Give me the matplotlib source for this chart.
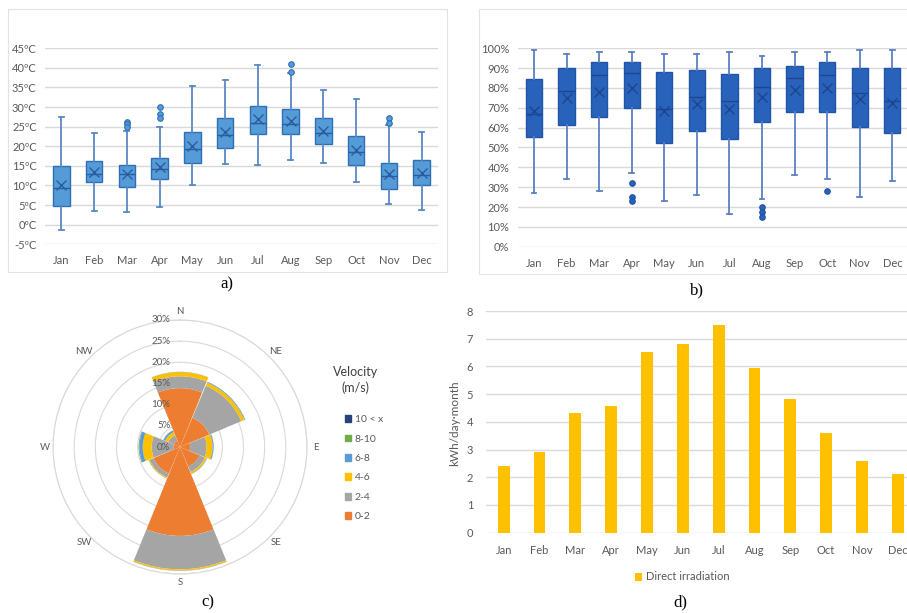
import matplotlib
matplotlib.use("Agg")
import numpy as np
import matplotlib.pyplot as plt
from matplotlib.patches import Patch, Rectangle

plt.rcParams['font.family'] = ['Lato', 'DejaVu Sans']

months = ["Jan", "Feb", "Mar", "Apr", "May", "Jun", "Jul", "Aug", "Sep", "Oct", "Nov", "Dec"]

# a) monthly air temperature (ºC)
temp_low = [-1.4, 3.4, 3.2, 4.4, 10.1, 15.4, 15.3, 16.4, 15.7, 10.9, 5.2, 3.8]
temp_q1 = [4.8, 10.8, 9.7, 11.7, 15.7, 19.6, 23.1, 23.1, 20.7, 15.3, 9.2, 10.0]
temp_med = [9.3, 13.0, 12.9, 14.1, 19.2, 23.0, 25.9, 25.6, 23.3, 18.6, 12.4, 12.7]
temp_q3 = [15.1, 16.2, 15.3, 16.9, 23.7, 27.2, 30.4, 29.4, 27.1, 22.6, 15.7, 16.4]
temp_high = [27.4, 23.3, 24.0, 24.8, 35.4, 36.8, 40.8, 38.6, 34.3, 32.0, 25.4, 23.7]
temp_mean = [10.0, 13.5, 12.9, 14.6, 20.2, 23.6, 26.9, 26.4, 24.0, 19.0, 12.9, 13.1]
temp_out = [[], [], [26.3, 25.6, 24.9], [29.9, 28.2, 27.1], [], [], [],
            [41.0, 38.9], [], [], [27.3, 26.0], []]

# b) monthly relative humidity (%)
hum_low = [27.2, 34.3, 28.2, 37.3, 23.2, 26.1, 16.3, 24.2, 36.3, 34.3, 25.2, 33.3]
hum_q1 = [55.3, 61.3, 65.2, 70.1, 52.1, 58.2, 54.3, 63.0, 68.1, 68.1, 60.2, 57.1]
hum_med = [67.1, 78.3, 86.4, 87.4, 69.4, 75.3, 73.3, 80.3, 85.2, 86.4, 77.3, 73.3]
hum_q3 = [84.4, 90.3, 93.3, 93.3, 88.2, 89.2, 87.2, 90.1, 91.3, 93.3, 90.1, 90.1]
hum_high = [99.2, 97.3, 98.3, 98.3, 97.3, 97.3, 98.3, 96.3, 98.3, 98.3, 99.2, 99.2]
hum_mean = [68.4, 75.0, 78.0, 79.8, 68.6, 71.8, 69.6, 75.5, 79.2, 79.8, 74.3, 72.3]
hum_out = [[], [], [], [32.3, 25.2, 23.2], [], [], [],
           [20.2, 17.5, 15.1], [], [28.1], [], []]

# c) wind frequency (%) by direction and speed class
directions = ["N", "NE", "E", "SE", "S", "SW", "W", "NW"]
speed_labels = ["0-2", "2-4", "4-6", "6-8", "8-10", "10 < x"]
wind_0_2 = [13.9, 7.5, 2.4, 5.0, 21.0, 6.8, 1.5, 1.6]
wind_2_4 = [2.8, 8.2, 3.9, 1.4, 7.9, 1.0, 5.2, 1.4]
wind_4_6 = [1.0, 0.8, 1.4, 0.4, 0.3, 0.2, 2.1, 0.8]
wind_6_8 = [0.05, 0.15, 0.2, 0.1, 0.05, 0.05, 0.8, 0.4]
wind_8_10 = [0.02, 0.05, 0.05, 0.02, 0.02, 0.02, 0.1, 0.05]
wind_10_up = [0.0, 0.02, 0.02, 0.0, 0.0, 0.0, 0.05, 0.02]
wind_colors = ["#ED7D31", "#A5A5A5", "#FFC000", "#5B9BD5", "#70AD47", "#264478"]

# d) direct irradiation (kWh/day·month)
irradiation = [2.41, 2.91, 4.31, 4.56, 6.52, 6.80, 7.48, 5.96, 4.84, 3.61, 2.60, 2.12]

TICK_GRAY = "#595959"
GRID_GRAY = "#D9D9D9"
W, H = 907, 613


def px_box(x0, y0, x1, y1):
    # pixel box (top-left origin) -> figure fraction rect
    return [x0 / W, 1 - y1 / H, (x1 - x0) / W, (y1 - y0) / H]


def make_stats(low, q1, med, q3, high, mean, out):
    stats = []
    for i in range(len(low)):
        stats.append(dict(whislo=low[i], q1=q1[i], med=med[i], q3=q3[i],
                          whishi=high[i], mean=mean[i], fliers=out[i]))
    return stats


def draw_boxes(ax, stats, fill, edge, whisk, dark):
    ax.bxp(stats, positions=range(12), widths=0.5, capwidths=0.15,
           patch_artist=True, showmeans=True, showfliers=True,
           boxprops=dict(facecolor=fill, edgecolor=edge, linewidth=1.0),
           medianprops=dict(color=dark, linewidth=1.0),
           whiskerprops=dict(color=whisk, linewidth=1.3),
           capprops=dict(color=whisk, linewidth=1.3),
           meanprops=dict(marker="x", markeredgecolor=dark, markersize=7,
                          markeredgewidth=1.0),
           flierprops=dict(marker="o", markerfacecolor=fill, markeredgecolor=edge,
                           markersize=4, markeredgewidth=0.8))
    ax.set_xlim(-0.5, 11.5)
    ax.set_xticks(range(12))
    ax.set_xticklabels(months)
    for s in ax.spines.values():
        s.set_visible(False)
    ax.yaxis.grid(True, color=GRID_GRAY, linewidth=1.0)
    ax.set_axisbelow(True)
    ax.tick_params(length=0, labelsize=8, colors=TICK_GRAY)
    ax.tick_params(axis="x", pad=8)
    ax.tick_params(axis="y", pad=6)


fig = plt.figure(figsize=(W / 100, H / 100), dpi=100)

# chart frames around a) and b)
fig.patches.append(Rectangle((8 / W, 1 - 272 / H), 439 / W, 263 / H, transform=fig.transFigure,
                             fill=False, edgecolor="#E3E3E3", linewidth=0.8))
fig.patches.append(Rectangle((479 / W, 1 - 274 / H), 440 / W, 265 / H, transform=fig.transFigure,
                             fill=False, edgecolor="#E3E3E3", linewidth=0.8))

# a) temperature
ax_a = fig.add_axes(px_box(45, 48.3, 438, 244.3))
draw_boxes(ax_a, make_stats(temp_low, temp_q1, temp_med, temp_q3, temp_high, temp_mean, temp_out),
           fill="#559BD8", edge="#2E6FB4", whisk="#5A88C6", dark="#2B5D9E")
ax_a.set_ylim(-5, 45)
ax_a.set_yticks(range(-5, 50, 5))
ax_a.set_yticklabels([f"{v}ºC" for v in range(-5, 50, 5)])

# b) relative humidity
ax_b = fig.add_axes(px_box(517.7, 48.3, 908.6, 246.7))
draw_boxes(ax_b, make_stats(hum_low, hum_q1, hum_med, hum_q3, hum_high, hum_mean, hum_out),
           fill="#2962BA", edge="#1F54A6", whisk="#5A80C4", dark="#1C4691")
ax_b.set_ylim(0, 100)
ax_b.set_yticks(range(0, 110, 10))
ax_b.set_yticklabels([f"{v}%" for v in range(0, 110, 10)])

# c) wind rose
ax_c = fig.add_axes(px_box(53, 320, 307, 574), projection="polar")
ax_c.set_theta_zero_location("N")
ax_c.set_theta_direction(-1)
ax_c.set_axisbelow(True)
theta = np.deg2rad(np.arange(0, 360, 45))
bottom = np.zeros(len(directions))
for vals, col, lab in zip([wind_0_2, wind_2_4, wind_4_6, wind_6_8, wind_8_10, wind_10_up],
                          wind_colors, speed_labels):
    # small angular gap leaves a thin white line between sectors
    ax_c.bar(theta, vals, width=np.pi / 4 - 0.012, bottom=bottom, color=col,
             edgecolor="none", label=lab, zorder=2)
    bottom += np.array(vals)
ax_c.set_ylim(0, 30)
ax_c.set_yticks(range(5, 35, 5))
ax_c.set_yticklabels([])
ax_c.yaxis.grid(True, color=GRID_GRAY, linewidth=0.8)
ax_c.xaxis.grid(False)
ax_c.spines["polar"].set_color(GRID_GRAY)
ax_c.spines["polar"].set_linewidth(0.8)
ax_c.set_xticks(theta)
ax_c.set_xticklabels([])
ax_c.tick_params(axis="x", length=0)
for ang, name in zip(theta, directions):
    ax_c.text(ang, 32, name, ha="center", va="center", fontsize=7,
              color=TICK_GRAY, clip_on=False)
for r in range(0, 35, 5):
    ax_c.annotate(f"{r}%", xy=(0, r), xytext=(-7, 0), textcoords="offset points",
                  ha="right", va="center", fontsize=7, color=TICK_GRAY, zorder=5)

fig.text(356 / W, 1 - 380 / H, "Velocity\n(m/s)", ha="center", va="center",
         fontsize=9, color="#404040", linespacing=1.3)
handles = [Patch(color=c) for c in wind_colors][::-1]
fig.legend(handles, speed_labels[::-1], loc="upper left",
           bbox_to_anchor=(340 / W, 1 - 410 / H), frameon=False, fontsize=7.5,
           labelcolor=TICK_GRAY, handlelength=0.6, handleheight=0.6,
           handletextpad=0.3, labelspacing=1.0, borderpad=0)

# d) direct irradiation
ax_d = fig.add_axes(px_box(485.8, 311, 915.6, 532.7))
ax_d.bar(range(12), irradiation, width=0.33, color="#FFC000", label="Direct irradiation")
ax_d.set_xlim(-0.5, 11.5)
ax_d.set_ylim(0, 8)
ax_d.set_xticks(range(12))
ax_d.set_xticklabels(months)
ax_d.set_yticks(range(0, 9))
for s in ax_d.spines.values():
    s.set_visible(False)
ax_d.yaxis.grid(True, color=GRID_GRAY, linewidth=1.0)
ax_d.set_axisbelow(True)
ax_d.tick_params(length=0, labelsize=8, colors=TICK_GRAY)
ax_d.tick_params(axis="x", pad=9)
ax_d.tick_params(axis="y", pad=9)
fig.text(455 / W, 1 - 423 / H, "kWh/day·month", rotation=90, ha="center", va="center",
         fontsize=8.5, color=TICK_GRAY)
fig.legend(*ax_d.get_legend_handles_labels(), loc="center", bbox_to_anchor=(682 / W, 1 - 577 / H),
           frameon=False, fontsize=8, labelcolor=TICK_GRAY, handlelength=0.7,
           handleheight=0.7, handletextpad=0.3)

# panel captions
for txt, x, y in [("a)", 227, 284), ("b)", 697, 290), ("c)", 208, 602), ("d)", 680, 602)]:
    fig.text(x / W, 1 - y / H, txt, ha="center", va="center", fontsize=12,
             family="Liberation Serif", color="black")

fig.savefig("out.png", dpi=100)
